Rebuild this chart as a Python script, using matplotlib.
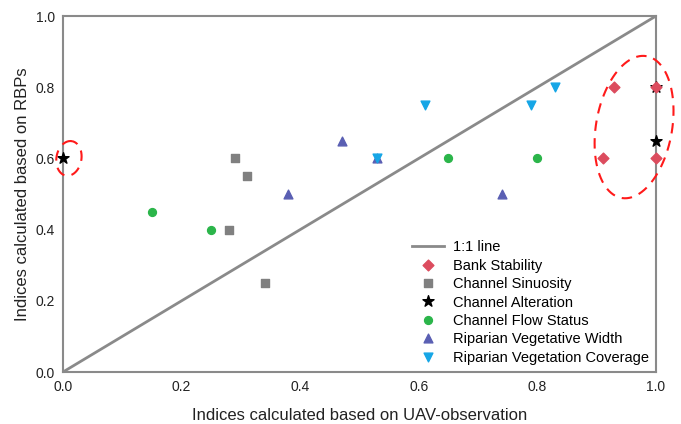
import numpy as np
import matplotlib
matplotlib.use("Agg")
import matplotlib.pyplot as plt

plt.rcParams['font.family'] = ['Liberation Sans', 'DejaVu Sans']

bank_x = [0.93, 1.0, 0.91, 1.0]
bank_y = [0.80, 0.80, 0.60, 0.60]
sin_x = [0.29, 0.31, 0.28, 0.34]
sin_y = [0.60, 0.55, 0.40, 0.25]
alt_x = [0.0, 1.0, 1.0]
alt_y = [0.60, 0.80, 0.65]
flow_x = [0.15, 0.25, 0.65, 0.80]
flow_y = [0.45, 0.40, 0.60, 0.60]
width_x = [0.38, 0.47, 0.53, 0.74]
width_y = [0.50, 0.65, 0.60, 0.50]
cov_x = [0.61, 0.79, 0.83, 0.53]
cov_y = [0.75, 0.75, 0.80, 0.60]
ticks = [0.0, 0.2, 0.4, 0.6, 0.8, 1.0]

fig = plt.figure(figsize=(6.81, 4.24), dpi=100)
ax = fig.add_axes([63/681, 52/424, 593/681, 356/424])
ax.set_xlim(0, 1)
ax.set_ylim(0, 1)

gray = '#8a8a8a'
ax.plot([0, 1], [0, 1], color=gray, lw=2, label='1:1 line', zorder=2)
ax.scatter(alt_x, alt_y, marker='*', s=70, color='black', label='Channel Alteration', zorder=3, clip_on=False)
ax.scatter(bank_x, bank_y, marker='D', s=30, color='#dc4c5e', label='Bank Stability', zorder=4, clip_on=False)
ax.scatter(sin_x, sin_y, marker='s', s=30, color='#808080', label='Channel Sinuosity', zorder=3)
ax.scatter(flow_x, flow_y, marker='o', s=32, color='#2bb54a', label='Channel Flow Status', zorder=3)
ax.scatter(width_x, width_y, marker='^', s=40, color='#5a5fb3', label='Riparian Vegetative Width', zorder=3)
ax.scatter(cov_x, cov_y, marker='v', s=40, color='#16a6e6', label='Riparian Vegetation Coverage', zorder=3)

# dashed ellipses in pixel space
def pix_ellipse(cx, cy, a, b, ang_deg):
    t = np.linspace(0, 2*np.pi, 200)
    ang = np.deg2rad(ang_deg)
    c = ax.transData.transform((cx, cy))
    px = c[0] + a*np.cos(t)*np.cos(ang) - b*np.sin(t)*np.sin(ang)
    py = c[1] + a*np.cos(t)*np.sin(ang) + b*np.sin(t)*np.cos(ang)
    pts = ax.transData.inverted().transform(np.column_stack([px, py]))
    ax.plot(pts[:, 0], pts[:, 1], color='#ff1a1a', lw=1.5, ls=(0, (5, 3.5)), clip_on=False, zorder=5)

pix_ellipse(0.01, 0.6, 17.5, 12.5, 80)
pix_ellipse(0.963, 0.688, 72, 38, 80)

for s in ax.spines.values():
    s.set_color(gray)
    s.set_linewidth(1.5)
ax.set_xticks(ticks)
ax.set_yticks(ticks)
ax.set_xticklabels([f'{v:.1f}' for v in ticks])
ax.set_yticklabels([f'{v:.1f}' for v in ticks])
ax.tick_params(length=0, labelsize=10, colors='#222222')
ax.tick_params(axis='x', pad=6)
ax.tick_params(axis='y', pad=6)
ax.set_xlabel('Indices calculated based on UAV-observation', fontsize=12, labelpad=10, color='#222222')
ax.set_ylabel('Indices calculated based on RBPs', fontsize=12, labelpad=4, color='#222222')

h, l = ax.get_legend_handles_labels()
order = ['1:1 line', 'Bank Stability', 'Channel Sinuosity', 'Channel Alteration',
         'Channel Flow Status', 'Riparian Vegetative Width', 'Riparian Vegetation Coverage']
hd = dict(zip(l, h))
ax.legend([hd[k] for k in order], order, loc='lower right', frameon=False, fontsize=10.5,
          handlelength=2.2, handletextpad=0.6, labelspacing=0.3, borderaxespad=0.1,
          scatteryoffsets=[0.5], bbox_to_anchor=(1.0, 0.0))

fig.savefig('out.png', dpi=100)
